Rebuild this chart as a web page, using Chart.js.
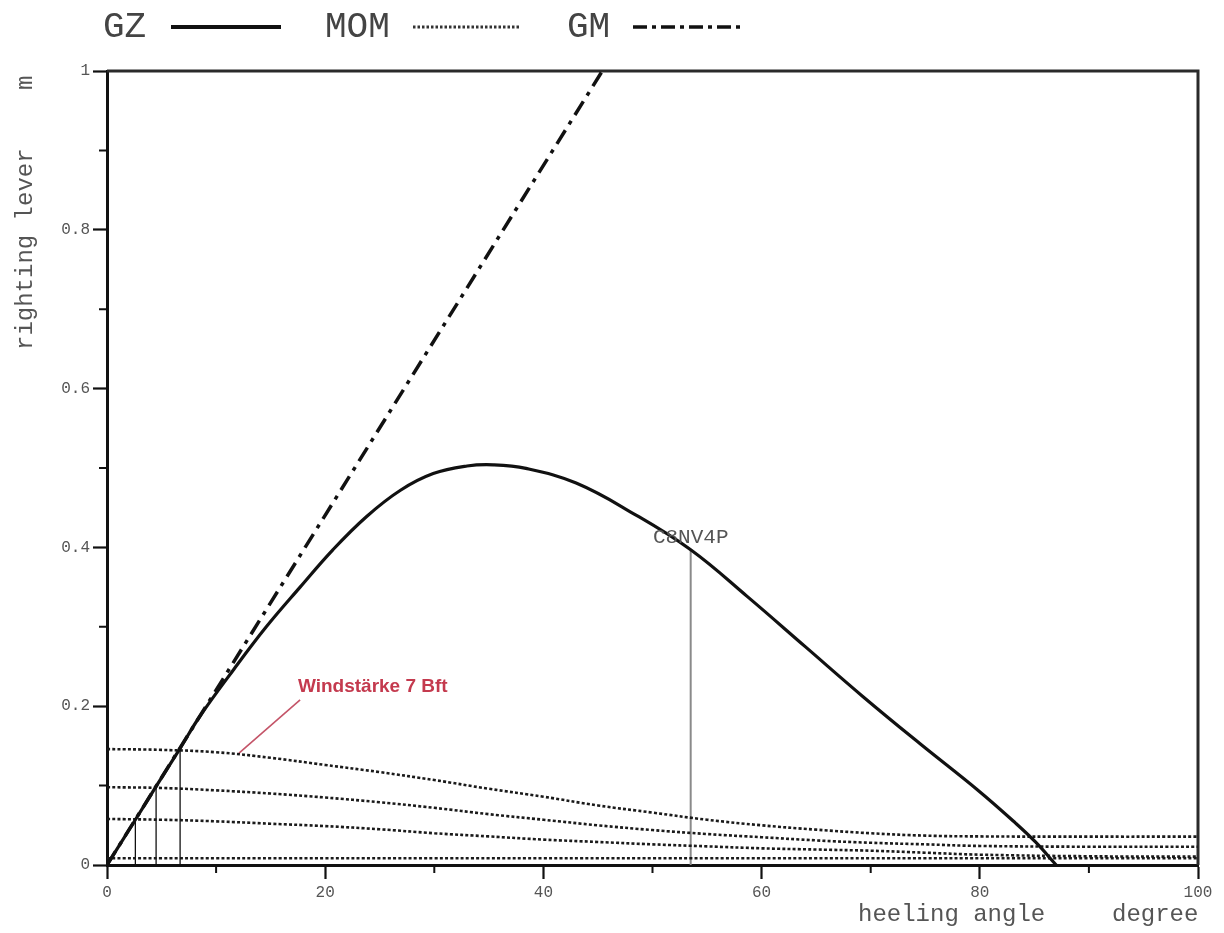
<!DOCTYPE html>
<html>
<head>
<meta charset="utf-8">
<script src="https://cdn.jsdelivr.net/npm/chart.js@4.4.1/dist/chart.umd.min.js"></script>
<style>
html,body{margin:0;padding:0;background:#fff;}
#wrap{width:1224px;height:933px;position:relative;}
</style>
</head>
<body>
<div id="wrap"><canvas id="c" width="1224" height="933"></canvas></div>
<script>
// ---- data ----
const gzAngle = [0, 2.6, 4.5, 6.7, 8.5, 11.6, 14.6, 17.7, 20.7, 23.8, 26.9, 29.9, 33.0, 35.4, 38.4, 43.0, 48.2, 53.5, 58.7, 64.0, 69.3, 74.5, 79.8, 83.3, 85.1, 87.0];
const gzLever = [0, 0.057, 0.099, 0.147, 0.187, 0.246, 0.300, 0.350, 0.397, 0.439, 0.472, 0.493, 0.5025, 0.504, 0.4995, 0.481, 0.443, 0.397, 0.338, 0.275, 0.212, 0.153, 0.0945, 0.0525, 0.029, 0];

const gmAngle = [0, 45.4];
const gmLever = [0, 1.0];

const momAngle = [0, 5, 10, 15, 20, 25, 30, 35, 40, 45, 50, 55, 60, 65, 70, 75, 80, 90, 100];
const mom1 = [0.146, 0.145, 0.142, 0.135, 0.126, 0.117, 0.107, 0.096, 0.086, 0.075, 0.066, 0.057, 0.050, 0.0445, 0.040, 0.037, 0.036, 0.0357, 0.0357];
const mom2 = [0.098, 0.097, 0.094, 0.090, 0.085, 0.079, 0.072, 0.064, 0.057, 0.050, 0.044, 0.039, 0.035, 0.031, 0.028, 0.026, 0.024, 0.023, 0.023];
const mom3 = [0.058, 0.057, 0.055, 0.052, 0.049, 0.045, 0.040, 0.036, 0.032, 0.029, 0.026, 0.0235, 0.021, 0.0195, 0.018, 0.0155, 0.013, 0.011, 0.0105];
const mom4 = [0.0085, 0.0085, 0.0085, 0.0085, 0.0085, 0.0085, 0.0085, 0.0085, 0.0085, 0.0085, 0.0085, 0.0085, 0.0085, 0.0085, 0.0085, 0.0085, 0.0085, 0.0085, 0.0085];

// intersection markers (angle, lever)
const crossAngle = [2.6, 4.5, 6.7];
const crossLever = [0.058, 0.098, 0.146];
const convAngle = 53.5;
const convLever = 0.397;
const convLabel = 'C8NV4P';
const convLabelLever = 0.413;

const windLineAngle = [12.1, 17.7];
const windLineLever = [0.141, 0.208];
const windLabel = 'Windstärke 7 Bft';
const windLabelPos = [17.5, 0.224];

const xTicks = [0, 20, 40, 60, 80, 100];
const xMinor = [10, 30, 50, 70, 90];
const yTicks = [0, 0.2, 0.4, 0.6, 0.8, 1];
const yMinor = [0.1, 0.3, 0.5, 0.7, 0.9];

const pts = (xs, ys) => xs.map((x, i) => ({x: x, y: ys[i]}));

const MONO = '"Liberation Mono", "DejaVu Sans Mono", monospace';

const datasets = [];
// thin vertical lines at wind-lever intersections
crossAngle.forEach((a, i) => {
  datasets.push({data: pts([a, a], [0, crossLever[i]]), borderColor: '#111', borderWidth: 1.3, pointRadius: 0, order: 5});
});
datasets.push({data: pts([convAngle, convAngle], [0, convLever]), borderColor: '#8a8a8a', borderWidth: 2, pointRadius: 0, order: 5});
// MOM curves
[mom1, mom2, mom3, mom4].forEach(m => {
  datasets.push({data: pts(momAngle, m), borderColor: '#1a1a1a', borderWidth: 2.6, borderDash: [3, 2.2], pointRadius: 0, tension: 0.4, order: 3});
});
// GM
datasets.push({data: pts(gmAngle, gmLever), borderColor: '#111', borderWidth: 3.5, borderDash: [16, 7, 4, 7], pointRadius: 0, order: 2});
// GZ
datasets.push({data: pts(gzAngle, gzLever), borderColor: '#111', borderWidth: 3.2, pointRadius: 0, tension: 0.4, order: 1});
// red pointer
datasets.push({data: pts(windLineAngle, windLineLever), borderColor: '#c45468', borderWidth: 1.6, pointRadius: 0, order: 4});

const deco = {
  id: 'deco',
  beforeDatasetsDraw(chart) {
    const ctx = chart.ctx, a = chart.chartArea;
    ctx.save();
    ctx.strokeStyle = '#2a2a2a';
    ctx.lineWidth = 3;
    ctx.beginPath();
    ctx.moveTo(a.left, a.top);
    ctx.lineTo(a.right, a.top);
    ctx.lineTo(a.right, a.bottom);
    ctx.stroke();
    ctx.restore();
  },
  afterDraw(chart) {
    const ctx = chart.ctx, a = chart.chartArea;
    const xs = chart.scales.x, ys = chart.scales.y;
    ctx.save();
    // minor ticks
    ctx.strokeStyle = '#111';
    ctx.lineWidth = 2;
    ctx.beginPath();
    yMinor.forEach(v => { const p = ys.getPixelForValue(v); ctx.moveTo(a.left - 8, p); ctx.lineTo(a.left, p); });
    xMinor.forEach(v => { const p = xs.getPixelForValue(v); ctx.moveTo(p, a.bottom); ctx.lineTo(p, a.bottom + 8); });
    ctx.stroke();

    // legend
    ctx.fillStyle = '#444';
    ctx.font = '36px ' + MONO;
    ctx.textBaseline = 'middle';
    ctx.textAlign = 'left';
    ctx.fillText('GZ', 103, 27);
    ctx.fillText('MOM', 325, 27);
    ctx.fillText('GM', 567, 27);
    ctx.strokeStyle = '#111';
    ctx.lineWidth = 4;
    ctx.setLineDash([]);
    ctx.beginPath(); ctx.moveTo(171, 27); ctx.lineTo(281, 27); ctx.stroke();
    ctx.lineWidth = 3;
    ctx.setLineDash([2.5, 2]);
    ctx.strokeStyle = '#333';
    ctx.beginPath(); ctx.moveTo(413, 27); ctx.lineTo(520, 27); ctx.stroke();
    ctx.strokeStyle = '#111';
    ctx.lineWidth = 3.5;
    ctx.setLineDash([14, 5, 4, 5]);
    ctx.beginPath(); ctx.moveTo(633, 27); ctx.lineTo(745, 27); ctx.stroke();
    ctx.setLineDash([]);

    // axis titles
    ctx.fillStyle = '#555';
    ctx.font = '24px ' + MONO;
    ctx.textAlign = 'left';
    ctx.textBaseline = 'middle';
    ctx.fillText('heeling angle', 858, 915);
    ctx.fillText('degree', 1112, 915);
    ctx.save();
    ctx.translate(26, 350);
    ctx.rotate(-Math.PI / 2);
    ctx.fillText('righting lever', 0, 0);
    ctx.restore();
    ctx.save();
    ctx.translate(26, 90);
    ctx.rotate(-Math.PI / 2);
    ctx.fillText('m', 0, 0);
    ctx.restore();

    // annotations
    ctx.fillStyle = '#555';
    ctx.font = '21px ' + MONO;
    ctx.textAlign = 'center';
    ctx.fillText(convLabel, xs.getPixelForValue(convAngle), ys.getPixelForValue(convLabelLever));
    ctx.fillStyle = '#c43a4e';
    ctx.font = 'bold 19px "Liberation Sans", Arial, sans-serif';
    ctx.textAlign = 'left';
    ctx.fillText(windLabel, xs.getPixelForValue(windLabelPos[0]), ys.getPixelForValue(windLabelPos[1]));
    ctx.restore();
  }
};

new Chart(document.getElementById('c'), {
  type: 'line',
  data: {datasets: datasets},
  options: {
    responsive: false,
    devicePixelRatio: 1,
    animation: false,
    layout: {padding: {top: 71, right: 26, left: 0, bottom: 0}},
    plugins: {legend: {display: false}, tooltip: {enabled: false}, title: {display: false}},
    elements: {line: {fill: false}},
    scales: {
      x: {
        type: 'linear', min: 0, max: 100,
        afterFit: s => { s.height = 68; },
        afterBuildTicks: s => { s.ticks = xTicks.map(v => ({value: v})); },
        ticks: {font: {family: MONO, size: 16}, color: '#555', padding: 4, maxRotation: 0, autoSkip: false,
                callback: v => String(v)},
        grid: {drawOnChartArea: false, drawTicks: true, tickLength: 14, tickWidth: 2.2, tickColor: '#111'},
        border: {display: true, color: '#111', width: 3}
      },
      y: {
        type: 'linear', min: 0, max: 1,
        afterFit: s => { s.width = 107; },
        afterBuildTicks: s => { s.ticks = yTicks.map(v => ({value: v})); },
        ticks: {font: {family: MONO, size: 16}, color: '#555', padding: 3, autoSkip: false,
                callback: v => (v === 0 ? '0' : v === 1 ? '1' : v.toFixed(1))},
        grid: {drawOnChartArea: false, drawTicks: true, tickLength: 14, tickWidth: 2.2, tickColor: '#111'},
        border: {display: true, color: '#111', width: 3}
      }
    }
  },
  plugins: [deco]
});
</script>
</body>
</html>
